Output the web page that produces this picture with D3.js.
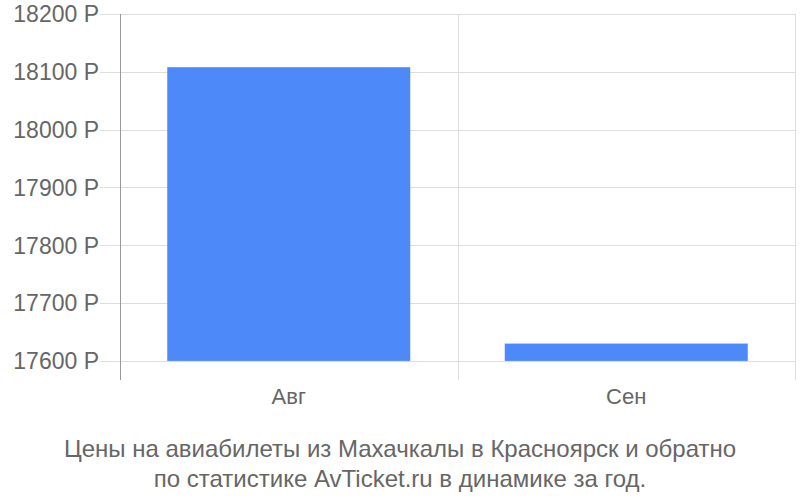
<!DOCTYPE html>
<html>
<head>
<meta charset="utf-8">
<title>Цены на авиабилеты</title>
<script src="https://cdn.jsdelivr.net/npm/d3@7"></script>
<style>
  body { margin: 0; background: #fff; }
  text { font-family: "Liberation Sans", Arial, sans-serif; fill: #666; }
</style>
</head>
<body>
<div id="chart"></div>
<script>
// data
const months = ["Авг", "Сен"];
const prices = [18108, 17630];
const yTicks = [17600, 17700, 17800, 17900, 18000, 18100, 18200];
const titleLines = [
  "Цены на авиабилеты из Махачкалы в Красноярск и обратно",
  "по статистике AvTicket.ru в динамике за год."
];

const width = 800, height = 500;
const plotLeft = 120, plotRight = 795, plotTop = 14, plotBottom = 380;

const svg = d3.select("#chart").append("svg")
  .attr("width", width)
  .attr("height", height);

const x = d3.scaleBand().domain(months).range([plotLeft, plotRight]).paddingInner(0).paddingOuter(0);
const y = d3.scaleLinear().domain([17567, 18200]).range([plotBottom, plotTop]);

// horizontal grid
svg.append("g").selectAll("line")
  .data(yTicks).enter().append("line")
  .attr("x1", plotLeft - 20).attr("x2", plotRight)
  .attr("y1", d => Math.round(y(d)) + 0.5).attr("y2", d => Math.round(y(d)) + 0.5)
  .attr("stroke", "#ddd").attr("stroke-width", 1);

// vertical grid between categories
svg.append("g").selectAll("line")
  .data(months).enter().append("line")
  .attr("x1", d => Math.round(x(d) + x.bandwidth()) + 0.5)
  .attr("x2", d => Math.round(x(d) + x.bandwidth()) + 0.5)
  .attr("y1", plotTop).attr("y2", plotBottom)
  .attr("stroke", "#ddd");

// bars, drawn from the 17600 baseline
const barW = x.bandwidth() * 0.72;
svg.append("g").selectAll("rect")
  .data(months).enter().append("rect")
  .attr("x", d => x(d) + (x.bandwidth() - barW) / 2)
  .attr("width", barW)
  .attr("y", (d, i) => y(prices[i]))
  .attr("height", (d, i) => y(17600) - y(prices[i]))
  .attr("fill", "#4d89f9");

// y axis line
svg.append("line")
  .attr("x1", plotLeft + 0.5).attr("x2", plotLeft + 0.5)
  .attr("y1", plotTop).attr("y2", plotBottom)
  .attr("stroke", "#999");

// y tick labels
svg.append("g").selectAll("text")
  .data(yTicks).enter().append("text")
  .attr("x", plotLeft - 21)
  .attr("y", d => y(d))
  .attr("dy", "0.36em")
  .attr("text-anchor", "end")
  .style("font-size", "23px")
  .text(d => d + " Р");

// x labels
svg.append("g").selectAll("text")
  .data(months).enter().append("text")
  .attr("x", d => x(d) + x.bandwidth() / 2)
  .attr("y", 404)
  .attr("text-anchor", "middle")
  .style("font-size", "22px")
  .text(d => d);

// title
svg.append("g").selectAll("text")
  .data(titleLines).enter().append("text")
  .attr("x", 400)
  .attr("y", (d, i) => 457 + i * 30)
  .attr("text-anchor", "middle")
  .style("font-size", "24px")
  .text(d => d);
</script>
</body>
</html>
